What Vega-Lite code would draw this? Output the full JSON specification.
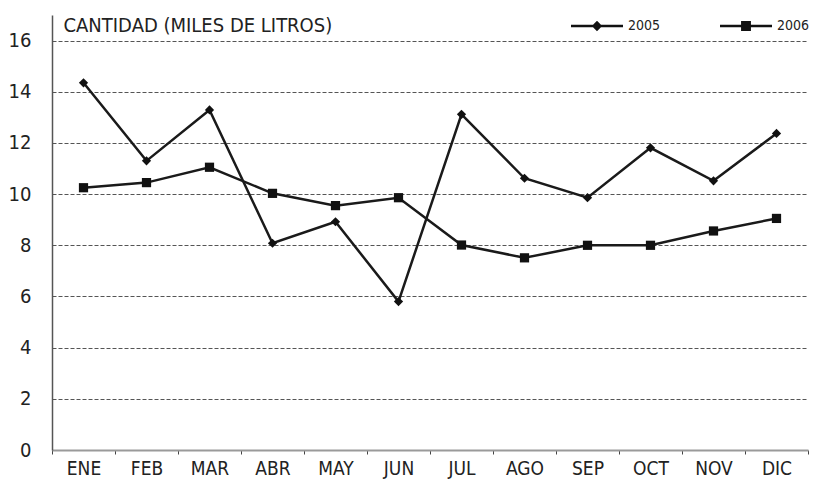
{
  "$schema": "https://vega.github.io/schema/vega-lite/v6.json",
  "width": 756,
  "height": 435,
  "autosize": {"type": "none"},
  "padding": {"left": 52, "top": 15, "right": 6, "bottom": 33},
  "background": "white",
  "config": {
    "view": {"stroke": null},
    "font": "'DejaVu Sans Condensed', 'Liberation Sans Narrow', sans-serif"
  },
  "data": {"values": [
    {"mes": "ENE", "anio": "2005", "valor": 14.35},
    {"mes": "FEB", "anio": "2005", "valor": 11.3},
    {"mes": "MAR", "anio": "2005", "valor": 13.29},
    {"mes": "ABR", "anio": "2005", "valor": 8.08},
    {"mes": "MAY", "anio": "2005", "valor": 8.92},
    {"mes": "JUN", "anio": "2005", "valor": 5.8},
    {"mes": "JUL", "anio": "2005", "valor": 13.12},
    {"mes": "AGO", "anio": "2005", "valor": 10.62},
    {"mes": "SEP", "anio": "2005", "valor": 9.86},
    {"mes": "OCT", "anio": "2005", "valor": 11.81},
    {"mes": "NOV", "anio": "2005", "valor": 10.52},
    {"mes": "DIC", "anio": "2005", "valor": 12.37},
    {"mes": "ENE", "anio": "2006", "valor": 10.25},
    {"mes": "FEB", "anio": "2006", "valor": 10.45},
    {"mes": "MAR", "anio": "2006", "valor": 11.05},
    {"mes": "ABR", "anio": "2006", "valor": 10.03},
    {"mes": "MAY", "anio": "2006", "valor": 9.55},
    {"mes": "JUN", "anio": "2006", "valor": 9.86},
    {"mes": "JUL", "anio": "2006", "valor": 8.01},
    {"mes": "AGO", "anio": "2006", "valor": 7.51},
    {"mes": "SEP", "anio": "2006", "valor": 8.0},
    {"mes": "OCT", "anio": "2006", "valor": 8.0},
    {"mes": "NOV", "anio": "2006", "valor": 8.56},
    {"mes": "DIC", "anio": "2006", "valor": 9.05}
  ]},
  "encoding": {
    "x": {
      "field": "mes", "type": "nominal",
      "sort": ["ENE","FEB","MAR","ABR","MAY","JUN","JUL","AGO","SEP","OCT","NOV","DIC"],
      "scale": {"type": "band", "paddingInner": 0, "paddingOuter": 0},
      "axis": {
        "title": null, "labelAngle": 0, "tickBand": "extent",
        "domainColor": "#9a9a9a", "domainWidth": 2,
        "tickColor": "#444", "tickSize": 4, "tickWidth": 1,
        "labelFontSize": 19, "labelColor": "#222", "labelPadding": 5,
        "grid": false
      }
    },
    "y": {
      "field": "valor", "type": "quantitative",
      "scale": {"domain": [0, 17], "nice": false},
      "axis": {
        "values": [0,2,4,6,8,10,12,14,16],
        "title": "CANTIDAD (MILES DE LITROS)",
        "titleAngle": 0, "titleAlign": "left", "titleBaseline": "alphabetic",
        "titleX": 11, "titleY": 16, "titleFontSize": 20, "titleFontWeight": "normal", "titleColor": "#222",
        "ticks": false, "tickSize": 0, "labelPadding": 21,
        "labelFontSize": 20, "labelColor": "#222",
        "domainColor": "#555", "domainWidth": 1.5,
        "grid": true, "gridColor": "#555", "gridDash": [4, 2], "gridWidth": 1
      }
    }
  },
  "layer": [
    {
      "mark": {"type": "line", "color": "#1a1a1a", "strokeWidth": 2.5},
      "encoding": {"detail": {"field": "anio", "type": "nominal"}}
    },
    {
      "mark": {"type": "point", "filled": true, "color": "#111", "opacity": 1, "size": 85},
      "encoding": {
        "shape": {"field": "anio", "type": "nominal",
          "scale": {"domain": ["2005", "2006"], "range": ["diamond", "square"]},
          "legend": null}
      }
    },
    {
      "mark": {"type": "point", "filled": true, "color": "#111", "opacity": 0, "size": 2704},
      "encoding": {
        "shape": {"field": "anio", "type": "nominal",
          "scale": {"domain": ["2005", "2006"], "range": [
            "M-1,-0.045H1V0.045H-1ZM0,-0.2L0.2,0L0,0.2L-0.2,0Z",
            "M-1,-0.045H1V0.045H-1ZM-0.19,-0.19H0.19V0.19H-0.19Z"
          ]},
          "legend": {
            "title": null, "orient": "none", "direction": "horizontal",
            "legendX": 519, "legendY": -15, "padding": 0,
            "symbolSize": 2704, "symbolFillColor": "#111", "symbolStrokeColor": "#111",
            "symbolStrokeWidth": 0, "symbolOpacity": 1,
            "labelFontSize": 14, "labelColor": "#222", "labelOffset": 5,
            "columnPadding": 59,
            "encode": {"symbols": {"update": {
              "opacity": {"value": 1},
              "fill": {"value": "#111"}
            }}}
          }
        }
      }
    }
  ],
  "resolve": {"scale": {"shape": "independent"}}
}
